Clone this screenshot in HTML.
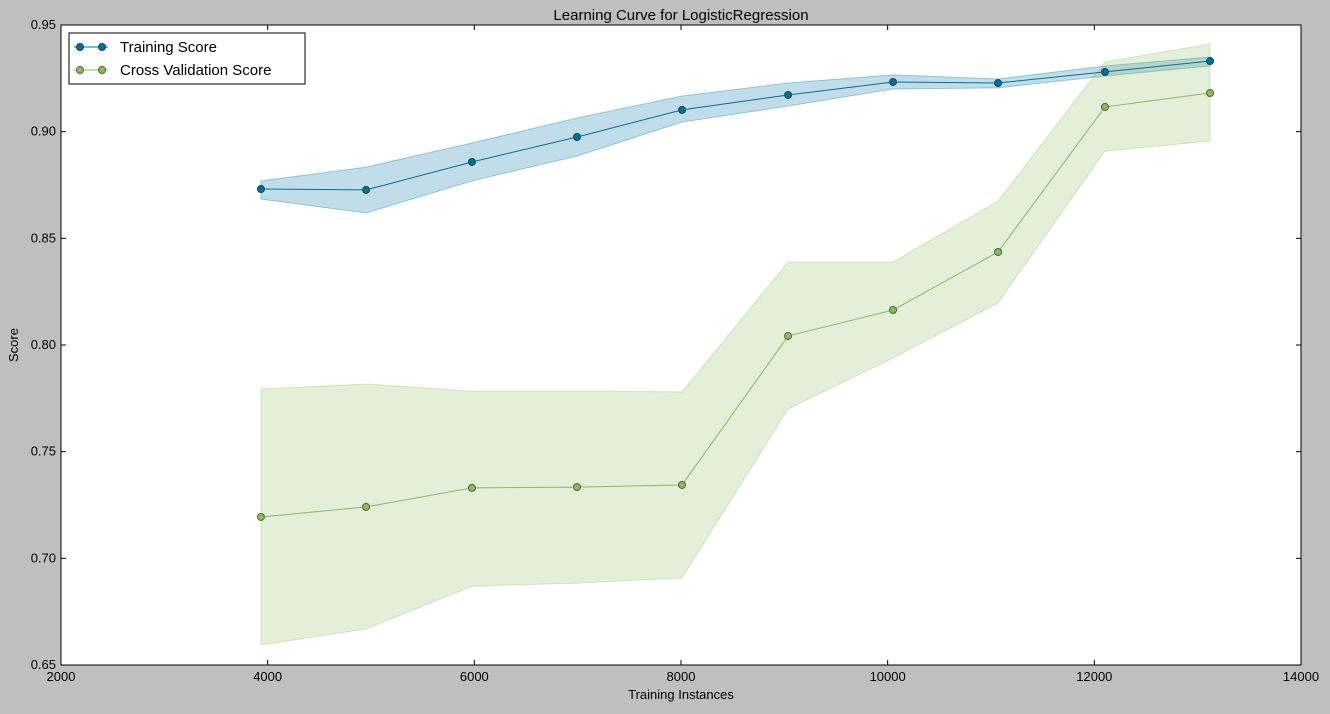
<!DOCTYPE html>
<html><head><meta charset="utf-8"><style>
body{margin:0;background:#bfbfbf;width:1330px;height:709px;overflow:hidden}
svg text{font-family:"Liberation Sans",sans-serif}
</style></head><body>
<svg id="chart" width="1330" height="709" xmlns="http://www.w3.org/2000/svg">
<rect x="0" y="0" width="1330" height="709" fill="#bfbfbf"/>
<rect x="61" y="25" width="1240" height="640" fill="#fff"/>
<g id="bands"></g><g id="lines"></g><g id="axes"></g>
<rect x="61" y="25" width="1240" height="640" fill="none" stroke="#000" stroke-width="1"/>
<text x="681" y="20" text-anchor="middle" font-size="15">Learning Curve for LogisticRegression</text>
<text x="681" y="699" text-anchor="middle" font-size="13">Training Instances</text>
<text x="18" y="345" text-anchor="middle" font-size="13" transform="rotate(-90 18 345)">Score</text>
<g>
<rect x="69" y="33" width="236" height="51" fill="#fff" stroke="#000"/>
<g><line x1="74" y1="47" x2="108" y2="47" stroke="#0a6e94"/><circle cx="80" cy="47" r="3.5" fill="#0a6e94" stroke="#054a66"/><circle cx="102" cy="47" r="3.5" fill="#0a6e94" stroke="#054a66"/><text x="120" y="52" font-size="15">Training Score</text></g>
<g><line x1="74" y1="70" x2="108" y2="70" stroke="#8fb765"/><circle cx="80" cy="70" r="3.5" fill="#8fb765" stroke="#4a6a30"/><circle cx="102" cy="70" r="3.5" fill="#8fb765" stroke="#4a6a30"/><text x="120" y="75" font-size="15">Cross Validation Score</text></g>
</g>
</svg>
<script>
const sizes=[3935,4952,5977,6994,8010,9036,10052,11068,12103,13120];
const trainMean=[0.8731,0.8727,0.8858,0.8975,0.9102,0.9172,0.9233,0.9228,0.928,0.9331];
const trainUpper=[0.8769,0.8834,0.8947,0.9064,0.9167,0.9228,0.9266,0.9247,0.9308,0.935];
const trainLower=[0.8684,0.8619,0.8769,0.8886,0.9045,0.912,0.92,0.9205,0.9261,0.9308];
const cvMean=[0.7194,0.7241,0.733,0.7334,0.7344,0.8042,0.8164,0.8436,0.9116,0.9181];
const cvUpper=[0.7794,0.7817,0.7784,0.7784,0.778,0.8389,0.8389,0.8675,0.9327,0.9411];
const cvLower=[0.6594,0.6669,0.6869,0.6884,0.6908,0.77,0.7939,0.8197,0.8909,0.8956];
const xTicks=[2000,4000,6000,8000,10000,12000,14000];
const yTicks=[0.65,0.70,0.75,0.80,0.85,0.90,0.95];
const X=v=>61+(v-2000)/12000*1240, Y=v=>665-(v-0.65)/0.3*640;
const NS="http://www.w3.org/2000/svg";
function mk(t,a,p){const e=document.createElementNS(NS,t);for(const k in a)e.setAttribute(k,a[k]);p.appendChild(e);return e;}
const bands=document.getElementById('bands'),lines=document.getElementById('lines'),axes=document.getElementById('axes');
function band(u,l,fill,stroke,name){
 const pts=sizes.map((s,i)=>X(s)+','+Y(u[i])).concat(sizes.map((s,i)=>X(s)+','+Y(l[i])).reverse());
 const p=mk('polygon',{points:pts.join(' '),fill:fill,stroke:stroke,'stroke-width':1},bands);
 
 
}
band(trainUpper,trainLower,'rgba(10,120,170,0.25)','rgba(10,120,170,0.35)','training-score-band');
band(cvUpper,cvLower,'rgba(140,185,90,0.23)','rgba(140,185,90,0.3)','cv-score-band');
function series(m,col,edge,name){
 const l=mk('polyline',{points:sizes.map((s,i)=>X(s)+','+Y(m[i])).join(' '),fill:'none',stroke:col,'stroke-width':1},lines);
 
 
 sizes.forEach((s,i)=>{const c=mk('circle',{cx:X(s),cy:Y(m[i]),r:3.5,fill:col,stroke:edge},lines);
 
 });
}
series(trainMean,'#0a6e94','#054a66','training-score');
series(cvMean,'#8fb765','#4a6a30','cv-score');
xTicks.forEach(t=>{const x=X(t);
 mk('line',{x1:x,y1:665,x2:x,y2:660,stroke:'#000'},axes);mk('line',{x1:x,y1:25,x2:x,y2:30,stroke:'#000'},axes);
 const e=mk('text',{x:x,y:681,'text-anchor':'middle','font-size':13},axes);e.textContent=t;
 
 });
yTicks.forEach(t=>{const y=Y(t);
 mk('line',{x1:61,y1:y,x2:66,y2:y,stroke:'#000'},axes);mk('line',{x1:1301,y1:y,x2:1296,y2:y,stroke:'#000'},axes);
 const e=mk('text',{x:56,y:y+4,'text-anchor':'end','font-size':13},axes);e.textContent=t.toFixed(2);
 
 });
</script>
</body></html>
